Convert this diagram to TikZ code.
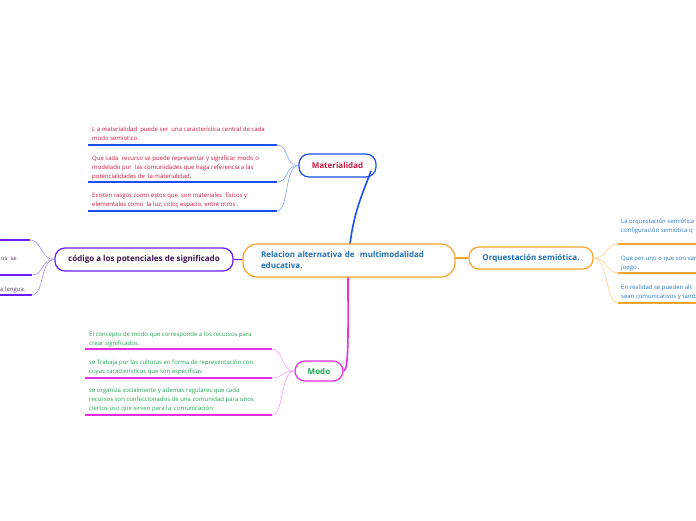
\documentclass[tikz,border=0pt]{standalone}
\usepackage{fontspec}
\setmainfont{Open Sans}

\definecolor{hubOrange}{HTML}{F7A42C}
\definecolor{hubBlue}{HTML}{1F6FB2}
\definecolor{matBlue}{HTML}{1B4FF5}
\definecolor{matLight}{HTML}{86A3FF}
\definecolor{matText}{HTML}{C8163E}
\definecolor{modMag}{HTML}{E62EE6}
\definecolor{modLight}{HTML}{F6A0F6}
\definecolor{modText}{HTML}{1FA556}
\definecolor{orqLight}{HTML}{FCD08A}
\definecolor{orqText}{HTML}{2A78C2}
\definecolor{codPurple}{HTML}{6A1CFF}
\definecolor{codLight}{HTML}{AC90FF}
\definecolor{codText}{HTML}{3C1450}
\definecolor{codLeaf}{HTML}{5A3A6A}

\begin{document}
\begin{tikzpicture}[
    x=1pt, y=-1pt,
    hub/.style={
        draw=hubOrange, line width=1.2pt, rounded corners=14pt,
        fill=white, text=hubBlue, align=left,
        font=\fontsize{8}{11}\selectfont\bfseries
    },
    topic/.style={
        draw, line width=1.2pt, rounded corners=10pt,
        fill=white, font=\fontsize{8}{9}\selectfont\bfseries
    },
    leaf/.style={
        anchor=north west, inner sep=0pt, align=left,
        font=\fontsize{6}{9}\selectfont
    },
    uline/.style={line width=1.8pt},
    twig/.style={line width=0.6pt},
    limb/.style={line width=1.6pt}
]
\useasboundingbox (0,0) rectangle (696,520);
\clip (0,0) rectangle (696,520);

% ----------------------------------------------------------
% Zentrum und Hauptzweige
% ----------------------------------------------------------
\node[topic, draw=matBlue, text=matText, minimum width=77pt, minimum height=23pt]
    (mat) at (337.5,165.5) {Materialidad};
\node[topic, draw=modMag, text=modText, minimum width=48pt, minimum height=20pt]
    (modo) at (319,371) {Modo};
\node[topic, draw=hubOrange, text=hubBlue, minimum width=124pt, minimum height=22pt]
    (orq) at (531,258) {Orquestación semiótica.};
\node[topic, draw=codPurple, text=codText, minimum width=178pt, minimum height=23pt]
    (cod) at (144,259.5) {código a los potenciales de significado};

\draw[limb, matBlue] (350,244) .. controls (354,212) and (362,195) .. (371,171);
\draw[limb, modMag] (348,277) .. controls (348,330) and (349,371) .. (modo.east);
\draw[limb, hubOrange] (orq.west) -- (455,258);
\draw[limb, codPurple] (cod.east) -- (243,259.5);

\node[hub, minimum width=212pt, minimum height=33pt, text width=176pt]
    (cen) at (349,260.5) {Relacion alternativa de\ \ multimodalidad\\educativa.};

% ----------------------------------------------------------
% Materialidad: Blätter
% ----------------------------------------------------------
\coordinate (m1) at (277,145);
\coordinate (m2) at (277,182);
\coordinate (m3) at (277,211);
\foreach \c in {m1,m2,m3} {
    \draw[uline, matBlue] (\c) -- ++(-189,0);
    \draw[twig, matLight] (mat.west) .. controls +(-14,0) and +(12,0) .. (\c);
}
\node[leaf, text=matText] (mt1) at (92,127)
    {L a materialidad\ \ puede ser\ \ una característica central de cada\\modo semiotico.};
\node[leaf, text=matText] (mt2) at (92,156)
    {Que cada\ \ recurso se puede representar y significar modo o\\modelado por\ \ las comunidades que haga referencia a las\\potencialidades de\ \ la materialidad.};
\node[leaf, text=matText] (mt3) at (92,193)
    {Existen rasgos como estos que\ \ son materiales\ \ físicos y\\elementales como\ \ la luz, coloç espacio, entre otros .};

% ----------------------------------------------------------
% Modo: Blätter
% ----------------------------------------------------------
\coordinate (d1) at (272,349);
\coordinate (d2) at (272,378);
\coordinate (d3) at (272,415);
\foreach \c in {d1,d2,d3} {
    \draw[uline, modMag] (\c) -- ++(-187,0);
    \draw[twig, modLight] (modo.west) .. controls +(-14,0) and +(12,0) .. (\c);
}
\node[leaf, text=modText] (dt1) at (89,332)
    {El concepto de modo que corresponde a los recursos para\\crear significados.};
\node[leaf, text=modText] (dt2) at (89,360)
    {se Trabaja por las culturas en forma de representación con\\cuyas características que son específicas.};
\node[leaf, text=modText] (dt3) at (89,388)
    {se organiza socialmente y ademas regulares que cada\\recursos son confeccionados de una comunidad para unos\\ciertos uso que sirven para la\ \ comunicación.};

% ----------------------------------------------------------
% Orquestación: Blätter (am Rand abgeschnitten)
% ----------------------------------------------------------
\coordinate (o1) at (618,244);
\coordinate (o2) at (618,273);
\coordinate (o3) at (618,303);
\foreach \c in {o1,o2,o3} {
    \draw[uline, hubOrange] (\c) -- ++(90,0);
    \draw[twig, orqLight] (orq.east) .. controls +(14,0) and +(-12,0) .. (\c);
}
\node[leaf, text=orqText] (ot1) at (621,219)
    {La orquestación semiótica\\configuración semiótica q\\.};
\node[leaf, text=orqText] (ot2) at (621,256)
    {Que por uno o que son var\\juego .};
\node[leaf, text=orqText] (ot3) at (621,285)
    {En realidad se pueden alc\\sean comunicativos y tamb};

% ----------------------------------------------------------
% código: Blätter (am Rand abgeschnitten)
% ----------------------------------------------------------
\coordinate (c1) at (30,240);
\coordinate (c2) at (32,275);
\coordinate (c3) at (32,295);
\foreach \c in {c1,c2,c3} {
    \draw[uline, codPurple] (\c) -- ++(-40,0);
    \draw[twig, codLight] (cod.west) .. controls +(-14,0) and +(12,0) .. (\c);
}
\node[leaf, anchor=north east, text=codLeaf] (ct2) at (17,257) {os\ \ se};
\node[leaf, text=codLeaf] (ct3) at (0,287) {a lengua.};

\end{tikzpicture}
\end{document}
